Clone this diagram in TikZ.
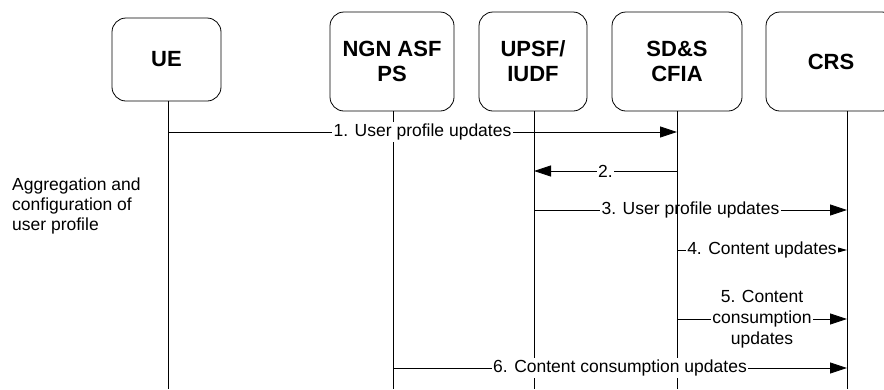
\documentclass[tikz,border=0pt]{standalone}
\usepackage{fontspec}
\setmainfont{Liberation Sans}
\usetikzlibrary{arrows.meta,calc}
\begin{document}
\begin{tikzpicture}[x=1pt,y=-1pt,
  box/.style={draw,line width=0.8pt,rounded corners=14pt,minimum height=99pt,
    font=\fontsize{22}{25}\selectfont\bfseries,align=center,inner sep=0pt},
  life/.style={line width=0.8pt},
  msg/.style={line width=0.8pt,-{Triangle[length=17pt,width=11pt]}},
  smallmsg/.style={line width=0.8pt,-{Triangle[length=11pt,width=6pt]}},
  lbl/.style={font=\fontsize{17.5}{21}\selectfont,fill=white,inner sep=1.5pt,align=center},
  lblnf/.style={font=\fontsize{17.5}{21}\selectfont,inner sep=1.5pt,align=center},
  side/.style={font=\fontsize{17.5}{20}\selectfont,align=left,inner sep=0pt,anchor=north west}]
\useasboundingbox (0,0) rectangle (884,389);
\clip (0,0) rectangle (884,389);

% boxes
\node[box,minimum width=109pt,minimum height=83pt] (ue) at (166.5,59.5) {UE};
\node[box,minimum width=124pt] (ngn) at (392,61.5) {NGN ASF\\PS};
\node[box,minimum width=108pt] (upsf) at (533,61.5) {UPSF/\\IUDF};
\node[box,minimum width=130pt] (sds) at (677,61.5) {SD\&S\\CFIA};
\node[box,minimum width=130pt] (crs) at (831,61.5) {CRS};

% lifeline bottoms
\coordinate (ueB) at (168,389);
\coordinate (ngnB) at (393,389);
\coordinate (upsfB) at (534,389);
\coordinate (sdsB) at (677,389);
\coordinate (crsB) at (847,389);

\draw[life] (ueB |- ue.south) -- (ueB);
\draw[life] (ngnB |- ngn.south) -- (ngnB);
\draw[life] (upsfB |- upsf.south) -- (upsfB);
\draw[life] (sdsB |- sds.south) -- (sdsB);
\draw[life] (crsB |- crs.south) -- (crsB);

% side text
\node[side] (agg) at (12,178) {Aggregation and\\configuration of\\user profile};

% message 1
\coordinate (m1a) at (168,132);
\coordinate (m1b) at (677,132);
\draw[msg] (m1a) -- node[lbl] (l1) {1. User profile updates} (m1b);

% message 2
\coordinate (m2a) at (677,171);
\coordinate (m2b) at (534,171);
\draw[msg] (m2a) -- node[lbl] (l2) {2.} (m2b);

% message 3 (label drawn over the SD&S lifeline)
\coordinate (m3a) at (534,210);
\coordinate (m3b) at (847,210);
\node[lblnf] (l3) at ($(m3a)!0.5!(m3b)$) {3. User profile updates};
\draw[life] (m3a) -- (l3.west);
\draw[msg] (l3.east) -- (m3b);

% message 4
\coordinate (m4a) at (677,250);
\coordinate (m4b) at (847,250);
\draw[smallmsg] (m4a) -- node[lbl] (l4) {4. Content updates} (m4b);

% message 5
\coordinate (m5a) at (677,319);
\coordinate (m5b) at (847,319);
\draw[msg] (m5a) -- node[lbl] (l5) {5. Content\\consumption\\updates} (m5b);

% message 6
\coordinate (m6a) at (393,368);
\coordinate (m6b) at (847,368);
\draw[msg] (m6a) -- node[lbl] (l6) {6. Content consumption updates} (m6b);
\end{tikzpicture}
\end{document}
